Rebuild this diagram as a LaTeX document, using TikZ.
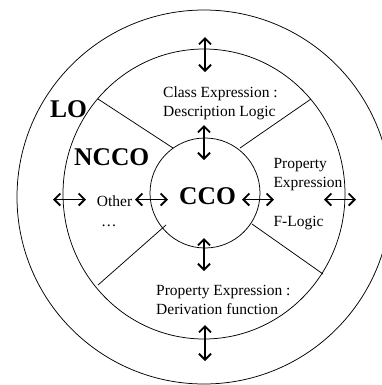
\documentclass[tikz,border=0pt]{standalone}
\usepackage{fontspec}
\setmainfont{Liberation Serif}
\usetikzlibrary{arrows.meta}
\tikzset{
  ring/.style={line width=0.75bp, draw=black},
  spoke/.style={line width=0.75bp, draw=black},
  dar/.style={line width=1.9bp, {Straight Barb[length=6bp,width=12bp,line width=1.9bp]}-{Straight Barb[length=6bp,width=12bp,line width=1.9bp]}},
  lbl/.style={anchor=base west, inner sep=0pt, font=\fontsize{15.5bp}{19.5bp}\selectfont},
  big/.style={anchor=base west, inner sep=0pt, font=\fontsize{25.5bp}{30bp}\selectfont\bfseries}
}
\begin{document}
\begin{tikzpicture}[x=1bp,y=-1bp]
\useasboundingbox (0,0) rectangle (382,385);
\begin{scope}
\clip (0,0) rectangle (382,385);
% rings
\draw[ring] (204,197) ellipse [x radius=187bp, y radius=187bp];
\draw[ring] (204,194) ellipse [x radius=141bp, y radius=145bp];
\draw[ring] (205,193) circle [radius=55bp];
% spokes
\draw[spoke] (98,99) -- (173,148);
\draw[spoke] (311,99) -- (240,148);
\draw[spoke] (98,285) -- (166,225);
\draw[spoke] (323,274) -- (252,224);
\end{scope}
% arrow end points
\coordinate (t1) at (205,37);  \coordinate (t2) at (205,72);
\coordinate (u1) at (204,125); \coordinate (u2) at (204,160);
\coordinate (d1) at (204,238); \coordinate (d2) at (204,271);
\coordinate (b1) at (205,325); \coordinate (b2) at (205,361);
\coordinate (l1) at (53,199.5);  \coordinate (l2) at (86,199.5);
\coordinate (m1) at (135,199.5); \coordinate (m2) at (168,199.5);
\coordinate (r1) at (242,199.5); \coordinate (r2) at (274,199.5);
\coordinate (s1) at (324,199.5); \coordinate (s2) at (356,199.5);
\draw[dar] (t1) -- (t2);
\draw[dar] (u1) -- (u2);
\draw[dar] (d1) -- (d2);
\draw[dar] (b1) -- (b2);
\draw[dar] (l1) -- (l2);
\draw[dar] (m1) -- (m2);
\draw[dar] (r1) -- (r2);
\draw[dar] (s1) -- (s2);
% labels
\node[big] (lo) at (50,117.3) {LO};
\node[big] (ncco) at (74,165.5) {NCCO};
\node[big] (cco) at (179,204.3) {CCO};
\node[lbl] (ce1) at (163,97.3) {Class Expression :};
\node[lbl] (ce2) at (163,116.8) {Description Logic};
\node[lbl] (pe1) at (273.3,168.3) {Property};
\node[lbl] (pe2) at (273.3,187.5) {Expression};
\node[lbl] (fl) at (273.3,226.7) {F-Logic};
\node[lbl] (ot) at (96.7,206.7) {Other};
\node[lbl] (dots) at (101,226) {…};
\node[lbl] (pd1) at (156,295) {Property Expression :};
\node[lbl] (pd2) at (156,314) {Derivation function};
\end{tikzpicture}
\end{document}
